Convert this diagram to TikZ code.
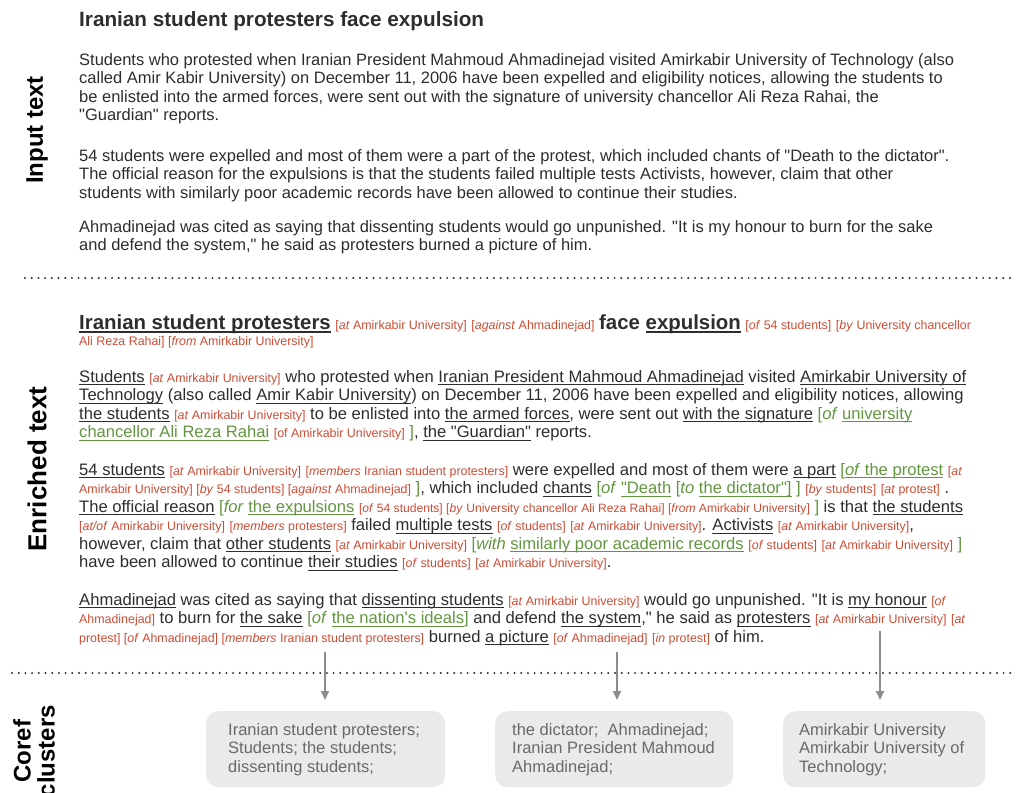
\documentclass[tikz,border=0pt]{standalone}
\usepackage{fontspec}
\setmainfont{Liberation Sans}[Ligatures=TeXOff]
\usetikzlibrary{arrows.meta}
\definecolor{maintext}{RGB}{45,45,45}
\definecolor{ared}{RGB}{204,76,52}
\definecolor{agreen}{RGB}{98,150,64}
\definecolor{arrowgray}{RGB}{140,140,140}
\definecolor{boxgray}{RGB}{234,234,234}
\definecolor{boxtext}{RGB}{105,105,105}
\newcommand\bodyfnt{\fontsize{16.5}{19}\selectfont}
\newcommand\enrfnt{\fontsize{16.6}{19}\selectfont}
\newcommand\annfnt{\fontsize{12.4}{14}\selectfont}
\newcommand\ttlfnt{\fontsize{20.7}{24}\selectfont\bfseries}
\newcommand\ettlfnt{\fontsize{20.4}{24}\selectfont\bfseries}
\newcommand\lblfnt{\fontsize{24}{24}\selectfont\bfseries}
\newcommand\ul[1]{\setbox0\hbox{#1}\rlap{\rule[-3.3pt]{\wd0}{0.9pt}}\box0\relax}
\newcommand\ulb[1]{\setbox0\hbox{#1}\rlap{\rule[-4pt]{\wd0}{1.6pt}}\box0\relax}
\newcommand\an[2]{{\annfnt\color{ared}[\textit{#1} #2]}}
\newcommand\rd[1]{{\annfnt\color{ared}#1}}
\newcommand\gr[1]{{\color{agreen}#1}}
\begin{document}
\begin{tikzpicture}[x=1pt,y=-1pt,
  txt/.style={anchor=base west, inner sep=0pt, text=maintext, font=\bodyfnt},
  etxt/.style={anchor=base west, inner sep=0pt, text=maintext, font=\enrfnt},
  ttl/.style={anchor=base west, inner sep=0pt, text=maintext, font=\ttlfnt},
  lbl/.style={rotate=90, anchor=center, inner sep=0pt, text=black, font=\lblfnt, align=center},
  sep/.style={draw=maintext, line width=2.2pt, line cap=round, dash pattern=on 0pt off 6.7pt},
  arr/.style={draw=arrowgray, line width=2pt, -{Triangle[width=8pt,length=9pt]}},
  cbox/.style={fill=boxgray, rounded corners=12pt, draw=none, inner sep=0pt, anchor=north west},
  btxt/.style={anchor=base west, inner sep=0pt, text=boxtext, font=\bodyfnt}]
\useasboundingbox (0,0) rectangle (1016,792);

% section labels
\node[lbl] (linput) at (37,130) {Input text};
\node[lbl, font=\fontsize{26}{26}\selectfont\bfseries] (lenrich) at (37,469) {Enriched text};
\node[lbl] (lcoref) at (34,751) {Coref\\[0pt]clusters};

% separators
\coordinate (d1a) at (25,278); \coordinate (d1b) at (1012,278);
\coordinate (d2a) at (12,673); \coordinate (d2b) at (1016,673);
\draw[sep] (d1a) -- (d1b);
\draw[sep] (d2a) -- (d2b);

% input text
\node[ttl] (i0) at (79,27) {Iranian student protesters face expulsion};
\node[txt] (i1) at (79,65) {Students who protested when Iranian President Mahmoud Ahmadinejad visited Amirkabir University of Technology (also};
\node[txt] (i2) at (79,83.5) {called Amir Kabir University) on December 11, 2006 have been expelled and eligibility notices, allowing the students to};
\node[txt] (i3) at (79,102) {be enlisted into the armed forces, were sent out with the signature of university chancellor Ali Reza Rahai, the};
\node[txt] (i4) at (79,120.5) {"Guardian" reports.};
\node[txt] (i5) at (79,161) {54 students were expelled and most of them were a part of the protest, which included chants of "Death to the dictator".};
\node[txt] (i6) at (79,179.5) {The official reason for the expulsions is that the students failed multiple tests Activists, however, claim that other};
\node[txt] (i7) at (79,198) {students with similarly poor academic records have been allowed to continue their studies.};
\node[txt] (i8) at (79,232) {Ahmadinejad was cited as saying that dissenting students would go unpunished. "It is my honour to burn for the sake};
\node[txt] (i9) at (79,250.5) {and defend the system," he said as protesters burned a picture of him.};

% enriched text
\node[etxt] (e0) at (79,329) {{\ettlfnt\ulb{Iranian student protesters}} \an{at}{Amirkabir University} \an{against}{Ahmadinejad} {\ettlfnt face \ulb{expulsion}} \an{of}{54 students} \rd{[\textit{by} University chancellor}};
\node[etxt] (e0b) at (79,345) {\rd{Ali Reza Rahai] [\textit{from} Amirkabir University]}};

\node[etxt] (p1a) at (79,382) {\ul{Students} \an{at}{Amirkabir University} who protested when \ul{Iranian President Mahmoud Ahmadinejad} visited \ul{Amirkabir University of}};
\node[etxt] (p1b) at (79,400.5) {\ul{Technology} (also called \ul{Amir Kabir University}) on December 11, 2006 have been expelled and eligibility notices, allowing};
\node[etxt] (p1c) at (79,419) {\ul{the students} \an{at}{Amirkabir University} to be enlisted into \ul{the armed forces}, were sent out \ul{with the signature} \gr{[\textit{of} \ul{university}}};
\node[etxt] (p1d) at (79,437.5) {\gr{\ul{chancellor Ali Reza Rahai}} \rd{[of Amirkabir University]} \gr{]}, \ul{the "Guardian"} reports.};

\node[etxt] (p2a) at (79,475) {\ul{54 students} \an{at}{Amirkabir University} \an{members}{Iranian student protesters} were expelled and most of them were \ul{a part} \gr{[\ul{\textit{of} the protest}} \rd{[\textit{at}}};
\node[etxt] (p2b) at (79,493.5) {\rd{Amirkabir University] [\textit{by} 54 students] [\textit{against} Ahmadinejad]} \gr{]}, which included \ul{chants} \gr{[\textit{of} \ul{"Death} [\textit{to} \ul{the dictator"]} ]} \an{by}{students} \an{at}{protest} .};
\node[etxt] (p2c) at (79,512) {\ul{The official reason} \gr{[\textit{for} \ul{the expulsions}} {\annfnt\fontsize{12.1}{14}\selectfont\color{ared}[\textit{of} 54 students] [\textit{by} University chancellor Ali Reza Rahai] [\textit{from} Amirkabir University]} \gr{]} is that \ul{the students}};
\node[etxt] (p2d) at (79,530.5) {\an{at/of}{Amirkabir University} \an{members}{protesters} failed \ul{multiple tests} \an{of}{students} \an{at}{Amirkabir University}. \ul{Activists} \an{at}{Amirkabir University},};
\node[etxt] (p2e) at (79,549) {however, claim that \ul{other students} \an{at}{Amirkabir University} \gr{[\textit{with} \ul{similarly poor academic records}} \an{of}{students} \an{at}{Amirkabir University} \gr{]}};
\node[etxt] (p2f) at (79,567.5) {have been allowed to continue \ul{their studies} \an{of}{students} \an{at}{Amirkabir University}.};

\node[etxt] (p3a) at (79,605) {\ul{Ahmadinejad} was cited as saying that \ul{dissenting students} \an{at}{Amirkabir University} would go unpunished. "It is \ul{my honour} \rd{[\textit{of}}};
\node[etxt] (p3b) at (79,623.5) {\rd{Ahmadinejad]} to burn for \ul{the sake} \gr{[\textit{of} \ul{the nation's ideals}]} and defend \ul{the system}," he said as \ul{protesters} \an{at}{Amirkabir University} \rd{[\textit{at}}};
\node[etxt] (p3c) at (79,642) {\rd{protest] [\textit{of} Ahmadinejad] [\textit{members} Iranian student protesters]} burned \ul{a picture} \an{of}{Ahmadinejad} \an{in}{protest} of him.};

% coref cluster boxes
\node[cbox, minimum width=239pt, minimum height=76pt] (b1) at (206,711) {};
\node[cbox, minimum width=238pt, minimum height=76pt] (b2) at (495,711) {};
\node[cbox, minimum width=202pt, minimum height=76pt] (b3) at (783,711) {};

\node[btxt] (b1a) at (228,735) {Iranian student protesters;};
\node[btxt] (b1b) at (228,753.5) {Students; the students;};
\node[btxt] (b1c) at (228,772) {dissenting students;};
\node[btxt] (b2a) at (512,735) {the dictator;\ \ Ahmadinejad;};
\node[btxt] (b2b) at (512,753.5) {Iranian President Mahmoud};
\node[btxt] (b2c) at (512,772) {Ahmadinejad;};
\node[btxt] (b3a) at (799,735) {Amirkabir University};
\node[btxt] (b3b) at (799,753.5) {Amirkabir University of};
\node[btxt] (b3c) at (799,772) {Technology;};

% arrows
\coordinate (s1) at (325,652);
\coordinate (s2) at (617,652);
\coordinate (s3) at (880,631);
\draw[arr, shorten >=11pt] (s1) -- (s1 |- b1.north);
\draw[arr, shorten >=11pt] (s2) -- (s2 |- b2.north);
\draw[arr, shorten >=11pt] (s3) -- (s3 |- b3.north);
\end{tikzpicture}
\end{document}
